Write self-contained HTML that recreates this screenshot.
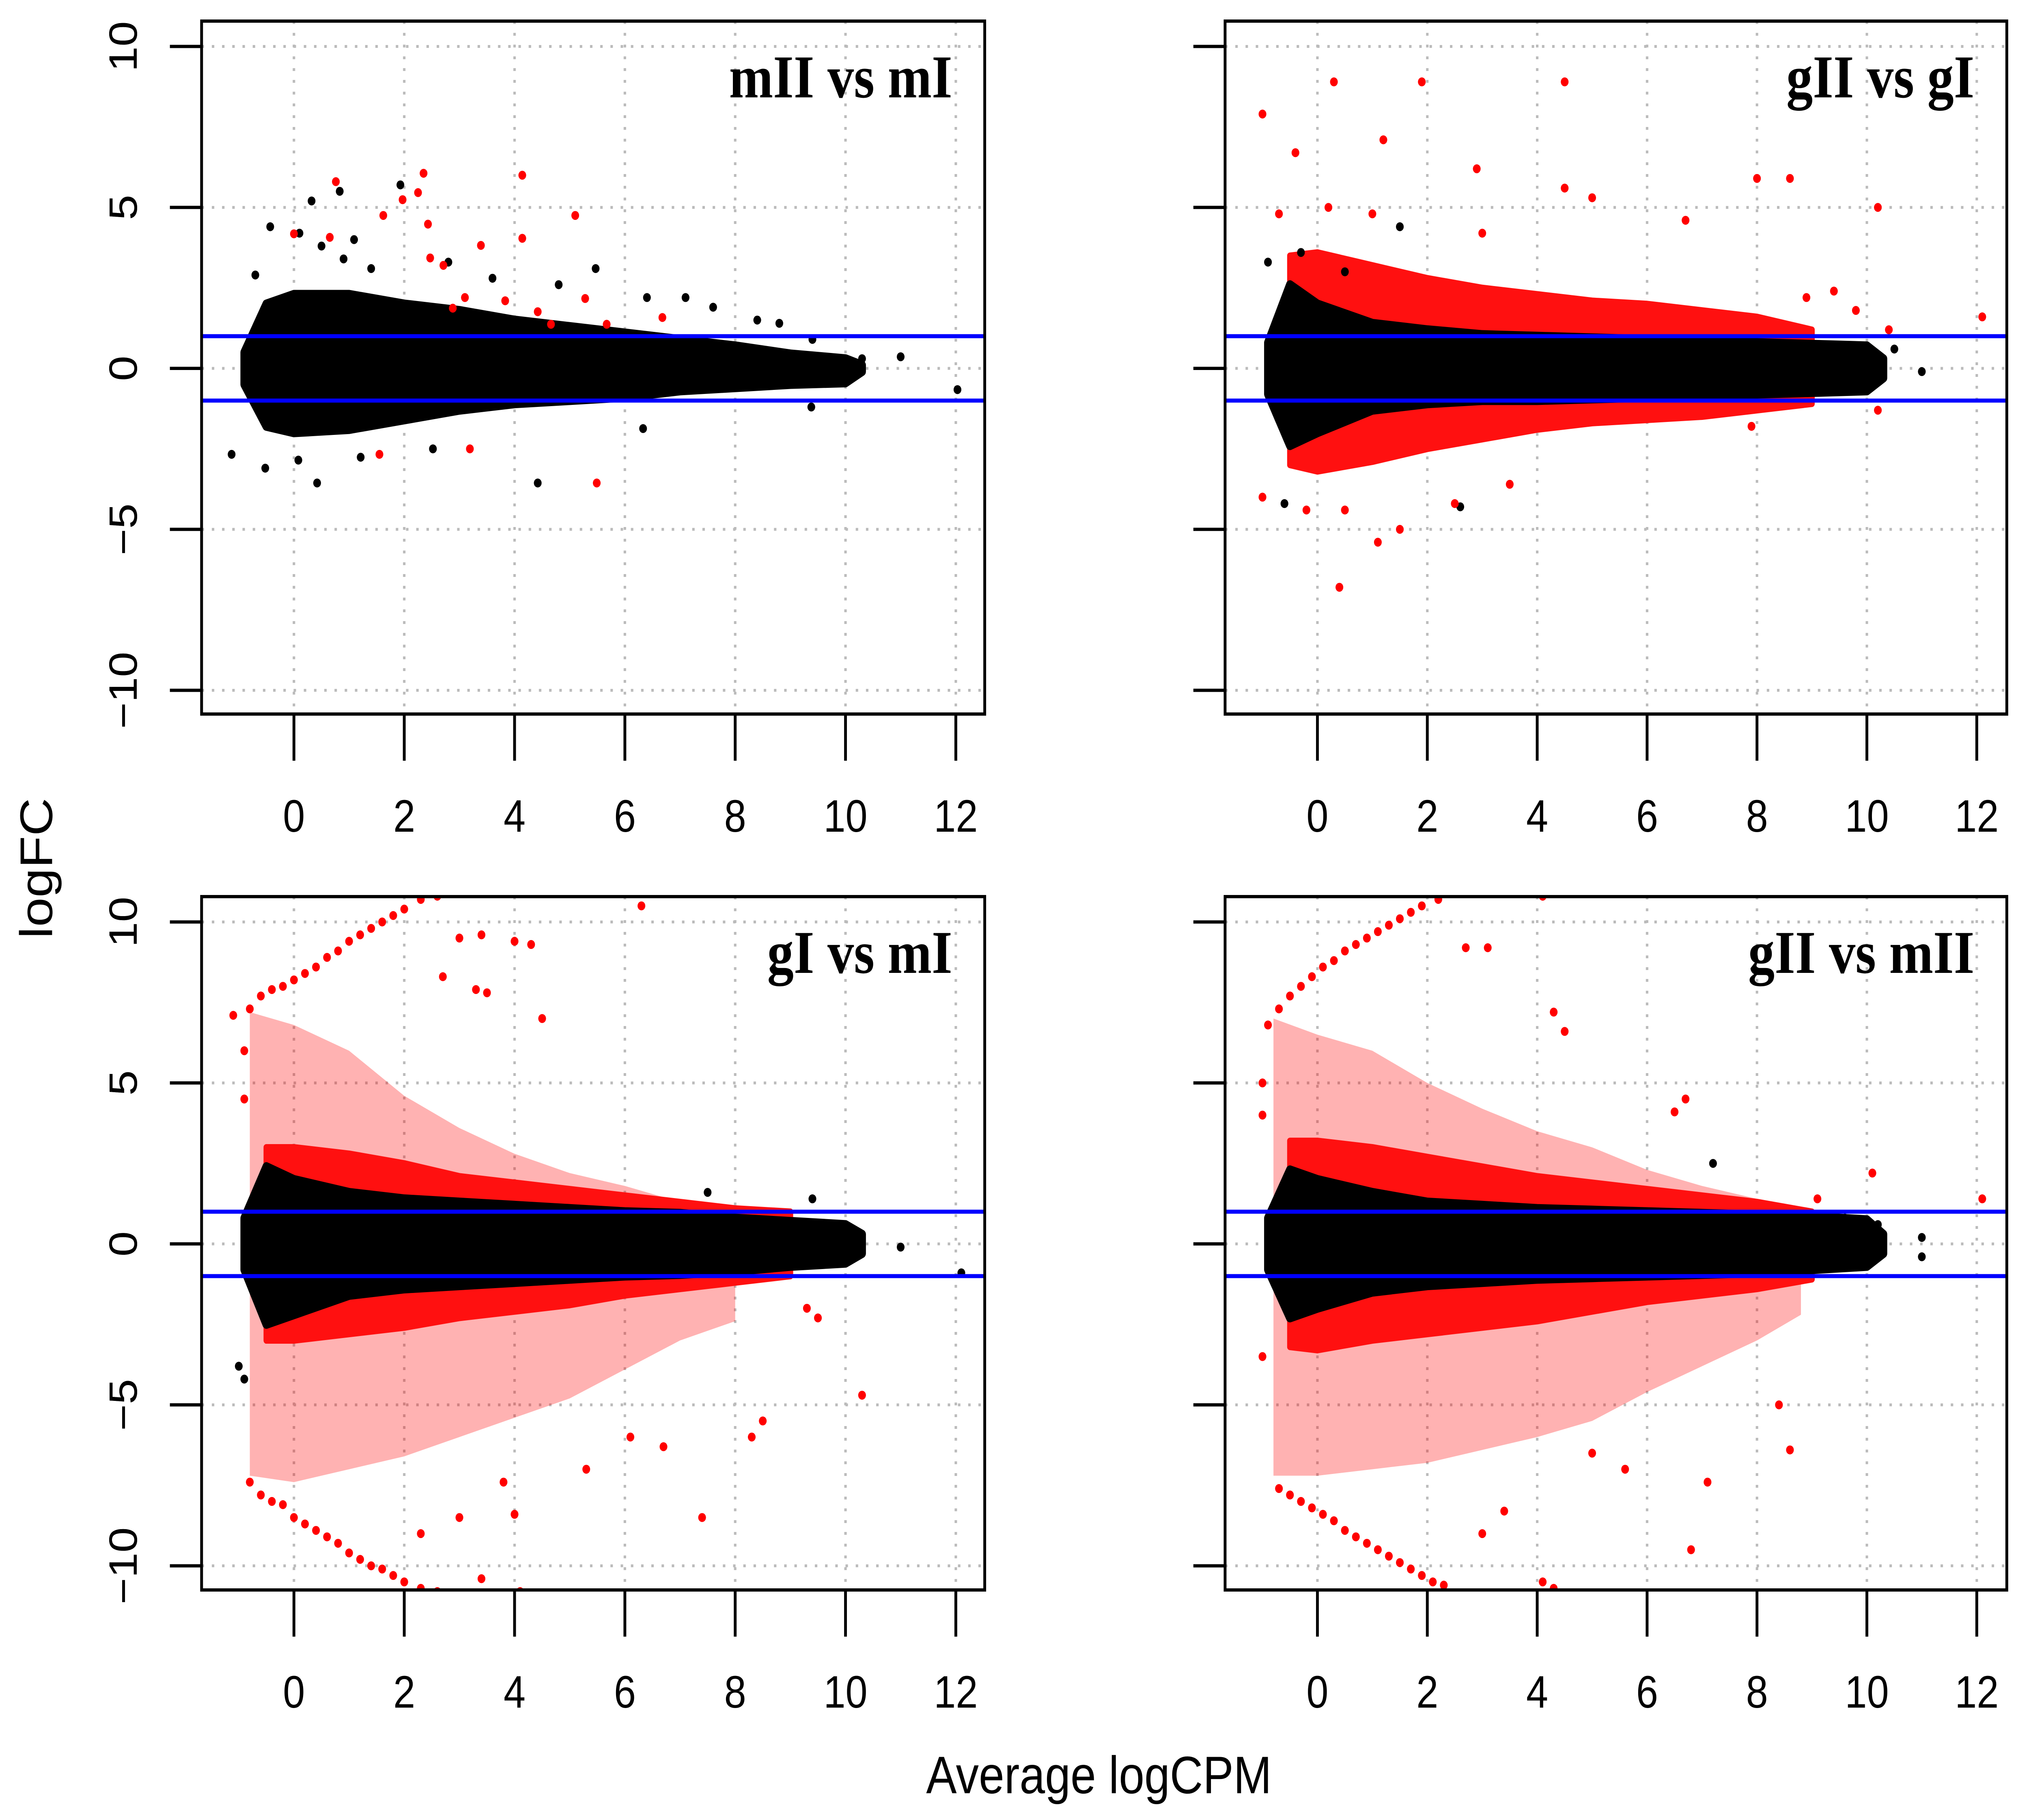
<!DOCTYPE html>
<html><head><meta charset="utf-8"><style>
html,body{margin:0;padding:0;background:#fff;width:100%;height:100%;overflow:hidden;}
svg{display:block;position:absolute;left:0;top:0;width:100%;height:100%;}
</style></head><body>
<svg id="chart" xmlns="http://www.w3.org/2000/svg" width="100%" height="100%" viewBox="0 0 5757 4486" preserveAspectRatio="none" overflow="hidden">
<rect width="5757" height="4486" fill="#fff"/>
<text x="103" y="2140" transform="rotate(-90 103 2140)" text-anchor="middle" dominant-baseline="central" font-family="Liberation Sans, sans-serif" font-size="130">logFC</text>
<text x="3118" y="4420" text-anchor="middle" font-family="Liberation Sans, sans-serif" font-size="130">Average logCPM</text>
</svg>
<script>
// ---- data ----
const xTicks = [0,2,4,6,8,10,12];
const yTicks = [10,5,0,-5,-10];
const thresholds = [1,-1];
const titles = ["mII vs mI","gII vs gI","gI vs mI","gII vs mII"];

const coreX = [-0.9,-0.5,0,1,2,3,4,5,6,7,8,9,10,10.3];
const core1Up = [0.5,2.0,2.3,2.3,2.0,1.8,1.5,1.3,1.1,0.9,0.7,0.45,0.3,0.1];
const core1Lo = [-0.5,-1.8,-2.0,-1.9,-1.6,-1.3,-1.1,-1.0,-0.9,-0.7,-0.6,-0.5,-0.45,-0.1];
const core2Up = [0.8,2.6,2.0,1.4,1.2,1.05,1.0,0.95,0.9,0.85,0.8,0.75,0.7,0.3];
const core2Lo = [-0.8,-2.4,-2.0,-1.3,-1.1,-1.0,-1.0,-0.95,-0.9,-0.85,-0.8,-0.75,-0.7,-0.3];
const core3Up = [0.8,2.4,2.0,1.6,1.4,1.3,1.2,1.1,1.0,0.95,0.8,0.7,0.6,0.3];
const core3Lo = [-0.8,-2.5,-2.2,-1.6,-1.4,-1.3,-1.2,-1.1,-1.0,-0.95,-0.85,-0.7,-0.6,-0.3];
const core4Up = [0.8,2.3,2.0,1.6,1.3,1.2,1.1,1.05,1.0,0.95,0.9,0.85,0.75,0.3];
const core4Lo = [-0.8,-2.3,-2.0,-1.5,-1.3,-1.2,-1.1,-1.05,-1.0,-0.95,-0.9,-0.8,-0.7,-0.3];

const redBandX = [-0.5,0,1,2,3,4,5,6,7,8,9];
const red2Up = [3.5,3.6,3.2,2.8,2.5,2.3,2.1,2.0,1.8,1.6,1.2];
const red2Lo = [-3.0,-3.2,-2.9,-2.5,-2.2,-1.9,-1.7,-1.6,-1.5,-1.3,-1.1];
const red3Up = [3.0,3.0,2.8,2.5,2.1,1.9,1.7,1.5,1.3,1.1,1.0];
const red3Lo = [-3.0,-3.0,-2.8,-2.6,-2.3,-2.1,-1.9,-1.6,-1.4,-1.2,-1.0];
const red4Up = [3.2,3.2,3.0,2.7,2.4,2.1,1.9,1.7,1.5,1.3,1.0];
const red4Lo = [-3.2,-3.3,-3.0,-2.8,-2.6,-2.4,-2.1,-1.8,-1.6,-1.4,-1.1];

const fan3Up = [[-0.8,1.5],[-0.8,7.2],[0,6.8],[1,6.0],[2,4.6],[3,3.6],[4,2.8],[5,2.2],[6,1.8],[7,1.3],[7,1],[-0.8,1]];
const fan3Lo = [[-0.8,-1],[-0.8,-7.2],[0,-7.4],[1,-7.0],[2,-6.6],[3,-6.0],[4,-5.4],[5,-4.8],[6,-3.9],[7,-3.0],[8,-2.4],[8,-1]];
const fan4Up = [[-0.8,1.5],[-0.8,7.0],[0,6.5],[1,6.0],[2,5.0],[3,4.2],[4,3.5],[5,3.0],[6,2.3],[7,1.8],[8,1.4],[8,1],[-0.8,1]];
const fan4Lo = [[-0.8,-1],[-0.8,-7.2],[0,-7.2],[1,-7.0],[2,-6.8],[3,-6.4],[4,-6.0],[5,-5.5],[6,-4.6],[7,-3.8],[8,-3.0],[8.8,-2.2],[8.8,-1]];

const black1 = [[0.32,5.2],[1.93,5.7],[0.83,5.5],[-0.43,4.4],[1.09,4.0],[4.42,-3.56],[0.42,-3.56],[-1.13,-2.67],[-0.52,-3.1],[0.08,-2.85],[1.21,-2.76],[2.52,-2.5],[5.47,3.1],[12.03,-0.66],[11.0,0.36],[9.38,-1.2],[6.33,-1.87],[0.9,3.4],[1.4,3.1],[2.8,3.3],[3.6,2.8],[4.8,2.6],[6.4,2.2],[7.1,2.2],[7.6,1.9],[8.4,1.5],[8.8,1.4],[9.4,0.9],[10.3,0.3],[-0.7,2.9],[0.5,3.8],[0.1,4.2]];
const red1 = [[0.76,5.8],[2.35,6.06],[4.14,6.0],[1.97,5.24],[2.25,5.46],[1.62,4.75],[5.1,4.75],[2.43,4.48],[4.14,4.04],[0,4.18],[0.65,4.07],[3.39,3.82],[2.47,3.43],[2.71,3.2],[1.55,-2.67],[3.19,-2.5],[5.49,-3.56],[3.83,2.1],[5.28,2.17],[2.88,1.87],[3.1,2.2],[4.42,1.76],[5.67,1.37],[6.68,1.58],[4.66,1.37]];
const black2 = [[2.6,-4.3],[-0.6,-4.2],[11.0,-0.1],[10.5,0.6],[10.2,0.4],[-0.9,3.3],[-0.3,3.6],[0.5,3.0],[1.5,4.4]];
const red2 = [[-1.0,7.9],[0.3,8.9],[1.9,8.9],[4.5,8.9],[1.2,7.1],[-0.4,6.7],[2.9,6.2],[4.5,5.6],[5.0,5.3],[8.0,5.9],[8.6,5.9],[10.2,5.0],[6.7,4.6],[-1.0,-4.0],[-0.2,-4.4],[0.5,-4.4],[1.1,-5.4],[0.4,-6.8],[1.5,-5.0],[2.5,-4.2],[3.5,-3.6],[12.1,1.6],[-0.7,4.8],[0.2,5.0],[1.0,4.8],[3.0,4.2],[9.4,2.4],[8.9,2.2],[7.9,-1.8],[9.8,1.8],[10.4,1.2],[10.2,-1.3]];
const black3 = [[11.0,-0.1],[12.1,-0.9],[10.2,0.3],[9.4,1.4],[7.5,1.6],[-1.0,-3.8],[-0.9,-4.2]];
const red3 = [[-0.8,7.3],[-0.6,7.7],[-0.4,7.9],[-0.2,8.0],[0,8.2],[0.2,8.4],[0.4,8.6],[0.6,8.9],[0.8,9.1],[1.0,9.4],[1.2,9.6],[1.4,9.8],[1.6,10.0],[1.8,10.2],[2.0,10.4],[2.3,10.7],[2.6,10.8],[-0.8,-7.4],[-0.6,-7.8],[-0.4,-8.0],[-0.2,-8.1],[0,-8.5],[0.2,-8.7],[0.4,-8.9],[0.6,-9.1],[0.8,-9.3],[1.0,-9.6],[1.2,-9.8],[1.4,-10.0],[1.6,-10.1],[1.8,-10.3],[2.0,-10.5],[2.3,-10.7],[2.6,-10.8],[3.4,-10.4],[4.1,-10.8],[2.3,-9.0],[3.0,-8.5],[4.0,-8.4],[7.4,-8.5],[8.5,-5.5],[8.3,-6.0],[10.3,-4.7],[6.3,10.5],[3.4,9.6],[4.0,9.4],[4.3,9.3],[4.5,7.0],[3.3,7.9],[3.5,7.8],[2.7,8.3],[3.0,9.5],[6.7,-6.3],[6.1,-6.0],[5.3,-7.0],[3.8,-7.4],[9.3,-2.0],[9.5,-2.3],[-0.9,4.5],[-0.9,6.0],[-1.1,7.1]];
const black4 = [[11.0,-0.4],[11.0,0.2],[10.2,0.6],[9.6,0.8],[7.2,2.5]];
const red4 = [[-0.9,6.8],[-0.7,7.3],[-0.5,7.7],[-0.3,8.0],[-0.1,8.3],[0.1,8.6],[0.3,8.8],[0.5,9.1],[0.7,9.3],[0.9,9.5],[1.1,9.7],[1.3,9.9],[1.5,10.1],[1.7,10.3],[1.9,10.5],[2.2,10.7],[-0.7,-7.6],[-0.5,-7.8],[-0.3,-8.0],[-0.1,-8.2],[0.1,-8.4],[0.3,-8.6],[0.5,-8.9],[0.7,-9.1],[0.9,-9.3],[1.1,-9.5],[1.3,-9.7],[1.5,-9.9],[1.7,-10.1],[1.9,-10.3],[2.1,-10.5],[2.3,-10.6],[4.1,-10.5],[4.3,-10.7],[4.1,10.8],[3.1,9.2],[2.7,9.2],[4.3,7.2],[4.5,6.6],[6.7,4.5],[6.5,4.1],[7.1,-7.4],[6.8,-9.5],[8.6,-6.4],[8.4,-5.0],[5.6,-7.0],[5.0,-6.5],[3.4,-8.3],[3.0,-9.0],[12.1,1.4],[10.1,2.2],[9.1,1.4],[-1.0,5.0],[-1.0,4.0],[-1.0,-3.5]];

// ---- layout ----
const panels = [
  {box:[572,52,2794,1760], x0:834, kx:156.5, y0:908, ky:79.35, core:[core1Up,core1Lo], blk:black1, red:red1},
  {box:[3476,52,5694,1760], x0:3738, kx:155.9, y0:908, ky:79.35, core:[core2Up,core2Lo], band:[red2Up,red2Lo], blk:black2, red:red2},
  {box:[572,2210,2794,3919], x0:834, kx:156.5, y0:3066, ky:79.35, core:[core3Up,core3Lo], band:[red3Up,red3Lo], fans:[fan3Up,fan3Lo], blk:black3, red:red3},
  {box:[3476,2210,5694,3919], x0:3738, kx:155.9, y0:3066, ky:79.35, core:[core4Up,core4Lo], band:[red4Up,red4Lo], fans:[fan4Up,fan4Lo], blk:black4, red:red4}
];
const NS = "http://www.w3.org/2000/svg";
const svg = document.getElementById('chart');
function mk(tag, attrs, parent){
  const e = document.createElementNS(NS, tag);
  for (const k in attrs) e.setAttribute(k, attrs[k]);
  (parent||svg).appendChild(e);
  return e;
}
panels.forEach((p, i) => {
  const sx = v => p.x0 + v*p.kx;
  const sy = v => p.y0 - v*p.ky;
  const [L,T,R,B] = p.box;
  const g = mk('g', {});
  
  
  const clip = mk('clipPath', {id:'clip'+i}, g);
  mk('rect', {x:L, y:T, width:R-L, height:B-T}, clip);
  xTicks.forEach(t => {
    const l = mk('line', {x1:sx(t), x2:sx(t), y1:T, y2:B, stroke:'#bbb', 'stroke-width':7, 'stroke-dasharray':'7 22'}, g);
    
    
  });
  yTicks.forEach(t => {
    const l = mk('line', {x1:L, x2:R, y1:sy(t), y2:sy(t), stroke:'#bbb', 'stroke-width':7, 'stroke-dasharray':'7 22'}, g);
    
    
  });
  const marks = mk('g', {'clip-path':'url(#clip'+i+')'}, g);
  
  
  (p.fans||[]).forEach(f => {
    const pg = mk('polygon', {points: f.map(q => sx(q[0])+','+sy(q[1])).join(' '), fill:'#ff0000', 'fill-opacity':0.3}, marks);
    
    
  });
  if (p.band){
    const up = redBandX.map((x,j)=>sx(x)+','+sy(p.band[0][j]));
    const lo = redBandX.map((x,j)=>sx(x)+','+sy(p.band[1][j])).reverse();
    const pg = mk('polygon', {points: up.concat(lo).join(' '), fill:'#ff1010', 'stroke':'#ff1010', 'stroke-width':16, 'stroke-linejoin':'round'}, marks);
    
    
  }
  const cu = coreX.map((x,j)=>sx(x)+','+sy(p.core[0][j]));
  const cl = coreX.map((x,j)=>sx(x)+','+sy(p.core[1][j])).reverse();
  const core = mk('polygon', {points: cu.concat(cl).join(' '), fill:'#000', stroke:'#000', 'stroke-width':22, 'stroke-linejoin':'round'}, marks);
  
  
  p.blk.forEach(q => {
    const c = mk('circle', {cx:sx(q[0]), cy:sy(q[1]), r:11, fill:'#000'}, marks);
    
    
  });
  p.red.forEach(q => {
    const c = mk('circle', {cx:sx(q[0]), cy:sy(q[1]), r:11, fill:'#ff0000'}, marks);
    
    
  });
  thresholds.forEach(t => {
    const l = mk('line', {x1:L, x2:R, y1:sy(t), y2:sy(t), stroke:'#0000ff', 'stroke-width':10}, g);
    
    
  });
  const box = mk('rect', {x:L, y:T, width:R-L, height:B-T, fill:'none', stroke:'#000', 'stroke-width':8}, g);
  
  
  xTicks.forEach(t => {
    const l = mk('line', {x1:sx(t), x2:sx(t), y1:B, y2:B+115, stroke:'#000', 'stroke-width':8}, g);
    
    
    const tx = mk('text', {x:sx(t), y:B+290, 'text-anchor':'middle', 'font-family':'Liberation Sans, sans-serif', 'font-size':112}, g);
    tx.textContent = t;
    
    
  });
  yTicks.forEach(t => {
    const l = mk('line', {x1:L-90, x2:L, y1:sy(t), y2:sy(t), stroke:'#000', 'stroke-width':8}, g);
    
    
    const tx = mk('text', {x:350, y:sy(t), 'text-anchor':'middle', 'dominant-baseline':'central', 'font-family':'Liberation Sans, sans-serif', 'font-size':112, transform:'rotate(-90 350 '+sy(t)+')'}, g);
    tx.textContent = t < 0 ? '\u2212' + Math.abs(t) : t;
    
    
  });
  const ti = mk('text', {x:R-92, y:T+188, 'text-anchor':'end', 'font-family':'Liberation Serif, serif', 'font-weight':'bold', 'font-size':150}, g);
  ti.textContent = titles[i];
  
  
});
</script>
</body></html>
